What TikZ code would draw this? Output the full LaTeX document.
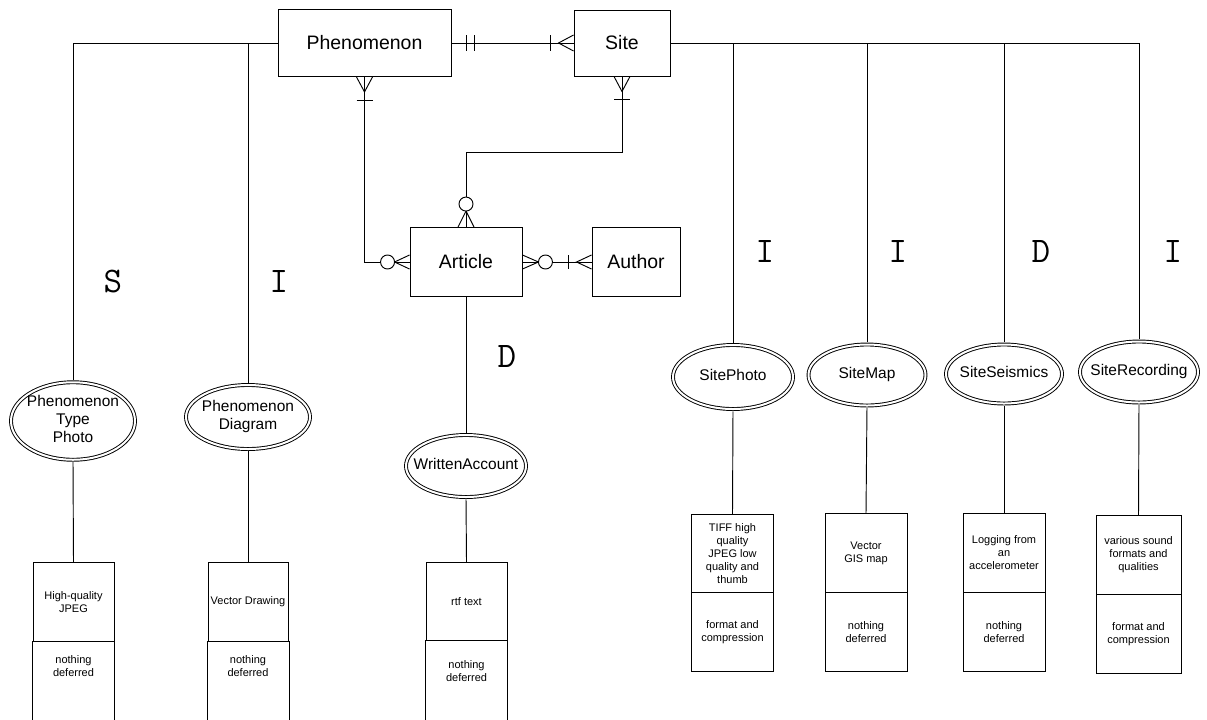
\documentclass[tikz,border=0pt]{standalone}
\usepackage{fontspec}
\setmainfont{Liberation Sans}
\usetikzlibrary{shapes.geometric}

% text inside the ovals, kept from widening them
\newcommand{\inoval}[1]{\makebox[0pt]{\begin{tabular}{@{}c@{}}#1\end{tabular}}}
% lower part of the boxes cut by the page edge
\newcommand{\lowpart}[2]{\parbox[c][80pt][t]{61.5pt}{\centering\vspace*{#1}#2}}

\begin{document}
\begin{tikzpicture}[x=0.75pt, y=-0.75pt, line width=0.7pt,
  entity/.style={draw, rectangle, inner sep=0pt, font=\fontsize{14.6}{17}\selectfont},
  weak/.style={draw, ellipse, double, double distance=1.5pt, inner sep=0pt, font=\fontsize{11.6}{13.7}\selectfont},
  fmtbox/.style={draw, rectangle, inner sep=0pt, outer sep=0pt, minimum width=61.5pt, minimum height=59pt, align=center, font=\fontsize{8.25}{9.75}\selectfont},
  defbox/.style={fmtbox, anchor=north},
  kind/.style={font=\ttfamily\fontsize{27}{27}\selectfont},
  nought/.style={draw, fill=white}]

\useasboundingbox (0,0) rectangle (1207,719);
\clip (0,0) rectangle (1207,719);

% entities
\node[entity, minimum width=129.75pt, minimum height=50.25pt] (pheno) at (364.5,43) {Phenomenon};
\node[entity, minimum width=72pt, minimum height=49.5pt] (site) at (622,43) {Site};
\node[entity, minimum width=84pt, minimum height=51.75pt] (article) at (466,262) {Article};
\node[entity, minimum width=66pt, minimum height=51.75pt] (author) at (636,262) {Author};

% media ovals
\node[weak, minimum width=93pt, minimum height=54pt] (ptype) at (73,421) {\inoval{Phenomenon\\Type\\Photo}};
\node[weak, minimum width=93pt, minimum height=48pt] (pdiag) at (248,417) {\inoval{Phenomenon\\Diagram}};
\node[weak, minimum width=90pt, minimum height=46.5pt] (wacct) at (466,466) {\inoval{WrittenAccount}};
\node[weak, minimum width=90pt, minimum height=48pt] (sphoto) at (733,377) {\inoval{SitePhoto}};
\node[weak, minimum width=87.75pt, minimum height=45.75pt] (smap) at (867,375) {\inoval{SiteMap}};
\node[weak, minimum width=87pt, minimum height=44.25pt] (sseis) at (1004,374) {\inoval{SiteSeismics}};
\node[weak, minimum width=88.5pt, minimum height=45.75pt] (srec) at (1139,372) {\inoval{SiteRecording}};

% format boxes
\node[fmtbox, minimum width=60.75pt] (ptypefmt) at (73.5,602) {High-quality\\JPEG};
\node[defbox, minimum width=60.75pt] (ptypedef) at (ptypefmt.south) {\lowpart{11pt}{nothing\\deferred}};
\node[fmtbox, minimum width=60pt] (pdiagfmt) at (248,602) {Vector Drawing};
\node[defbox, minimum width=60pt] (pdiagdef) at (pdiagfmt.south) {\lowpart{11pt}{nothing\\deferred}};
\node[fmtbox, minimum width=60.75pt] (wacctfmt) at (466.5,601.5) {rtf text};
\node[defbox, minimum width=60.75pt] (wacctdef) at (wacctfmt.south) {\lowpart{15pt}{nothing\\deferred}};

\node[fmtbox] (sphotofmt) at (732.5,553.5) {TIFF high\\quality\\JPEG low\\quality and\\thumb};
\node[defbox] (sphotodef) at (sphotofmt.south) {format and\\compression};
\node[fmtbox] (smapfmt) at (866,553) {Vector\\GIS map};
\node[defbox] (smapdef) at (smapfmt.south) {nothing\\deferred};
\node[fmtbox] (sseisfmt) at (1004,553) {Logging from\\an\\accelerometer};
\node[defbox] (sseisdef) at (sseisfmt.south) {nothing\\deferred};
\node[fmtbox, minimum width=63.75pt] (srecfmt) at (1138.5,555) {various sound\\formats and\\qualities};
\node[defbox, minimum width=63.75pt] (srecdef) at (srecfmt.south) {format and\\compression};

% S / I / D marks
\node[kind] (ptypelbl) at (113,281) {S};
\node[kind] (pdiaglbl) at (279,281) {I};
\node[kind] (wacctlbl) at (507,356) {D};
\node[kind] (sphotolbl) at (765,251) {I};
\node[kind] (smaplbl) at (898,251) {I};
\node[kind] (sseislbl) at (1041,251) {D};
\node[kind] (sreclbl) at (1173,251) {I};

% Phenomenon and Site to their media
\draw[shorten >=1.4pt] (pheno.west) -| (ptype.north);
\draw[shorten >=1.4pt] (pheno.west) -| (pdiag.north);
\draw[shorten >=1.4pt] (site.east) -| (sphoto.north);
\draw[shorten >=1.4pt] (site.east) -| (smap.north);
\draw[shorten >=1.4pt] (site.east) -| (sseis.north);
\draw[shorten >=1.4pt] (site.east) -| (srec.north);
\draw[shorten >=1.4pt] (article.south) -- (wacct.north);

% media to format boxes
\draw[shorten <=1.4pt] (ptype.south) -- (ptypefmt.north);
\draw[shorten <=1.4pt] (pdiag.south) -- (pdiagfmt.north);
\draw[shorten <=1.4pt] (wacct.south) -- (wacctfmt.north);
\draw[shorten <=1.4pt] (sphoto.south) -- (sphotofmt.north);
\draw[shorten <=1.4pt] (smap.south) -- (smapfmt.north);
\draw[shorten <=1.4pt] (sseis.south) -- (sseisfmt.north);
\draw[shorten <=1.4pt] (srec.south) -- (srecfmt.north);

% Phenomenon - Site: one and only one to one or many
\draw (pheno.east) -- (site.west);
\draw (pheno.east) ++(15,-8) -- ++(0,16);
\draw (pheno.east) ++(23,-8) -- ++(0,16);
\draw (site.west) ++(-23,-8) -- ++(0,16);
\draw (site.west) ++(0,-8) -- ++(-15,8) -- ++(15,8);

% Phenomenon - Article
\draw (pheno.south) |- (article.west);
\draw (pheno.south) ++(-8,0) -- ++(8,15) -- ++(8,-15);
\draw (pheno.south) ++(-8,23) -- ++(16,0);
\draw (article.west) ++(0,-7) -- ++(-15,7) -- ++(15,7);
\draw[nought] (article.west) ++(-22,0) circle[radius=7];

% Site - Article
\draw (site.south) -- ++(0,76) -| (article.north);
\draw (site.south) ++(-8,0) -- ++(8,15) -- ++(8,-15);
\draw (site.south) ++(-8,23) -- ++(16,0);
\draw (article.north) ++(-8,0) -- ++(8,-16) -- ++(8,16);
\draw[nought] (article.north) ++(0,-23) circle[radius=7];

% Article - Author
\draw (article.east) -- (author.west);
\draw (article.east) ++(0,-7) -- ++(16,7) -- ++(-16,7);
\draw[nought] (article.east) ++(23,0) circle[radius=7];
\draw (author.west) ++(-23,-7) -- ++(0,14);
\draw (author.west) ++(0,-7) -- ++(-15,7) -- ++(15,7);

\end{tikzpicture}
\end{document}
